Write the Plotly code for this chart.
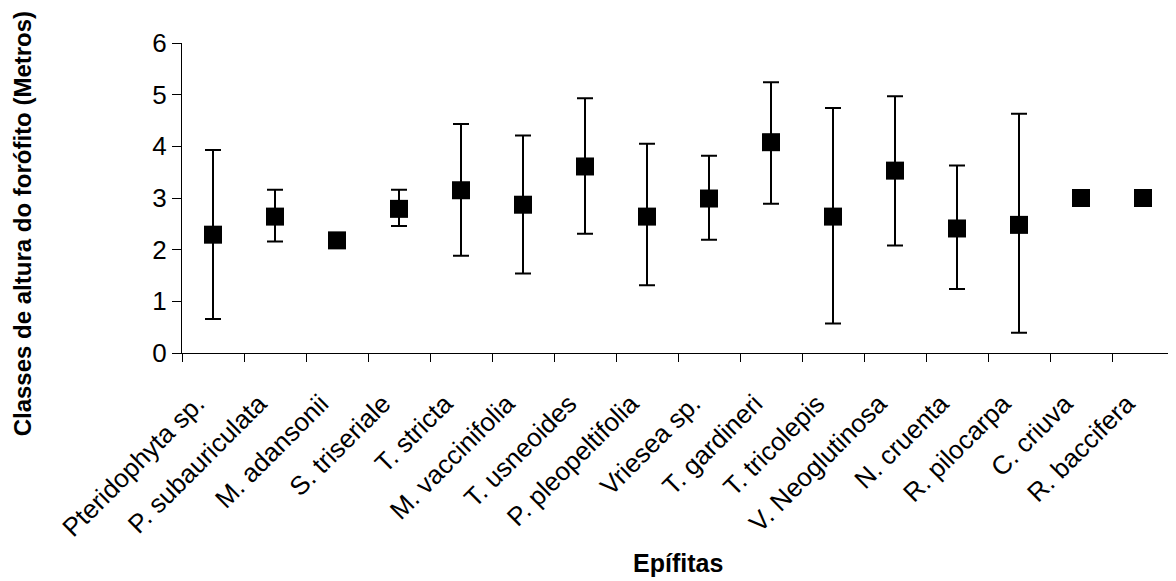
import plotly.graph_objects as go

categories = ["Pteridophyta sp.", "P. subauriculata", "M. adansonii", "S. triseriale",
              "T. stricta", "M. vaccinifolia", "T. usneoides", "P. pleopeltifolia",
              "Vriesea sp.", "T. gardineri", "T. tricolepis", "V. Neoglutinosa",
              "N. cruenta", "R. pilocarpa", "C. criuva", "R. baccifera"]
means = [2.29, 2.64, 2.18, 2.79, 3.15, 2.87, 3.61, 2.64, 2.99, 4.08, 2.64, 3.53, 2.41, 2.48, 3.0, 3.0]
upper = [3.93, 3.16, None, 3.16, 4.43, 4.21, 4.93, 4.05, 3.82, 5.24, 4.74, 4.97, 3.63, 4.63, None, None]
lower = [0.66, 2.16, None, 2.46, 1.88, 1.54, 2.31, 1.31, 2.19, 2.89, 0.57, 2.08, 1.24, 0.39, None, None]

err_plus = [(u - m) if u is not None else 0 for u, m in zip(upper, means)]
err_minus = [(m - l) if l is not None else 0 for l, m in zip(lower, means)]

FONT = "Arial, Liberation Sans, sans-serif"

fig = go.Figure()
fig.add_trace(go.Scatter(
    x=categories, y=means, mode="markers",
    marker=dict(symbol="square", size=18, color="black"),
    error_y=dict(type="data", symmetric=False, array=err_plus, arrayminus=err_minus,
                 color="black", thickness=2, width=8),
    showlegend=False,
))

fig.update_layout(
    width=1176, height=581,
    margin=dict(l=174, r=10, t=35, b=236),
    paper_bgcolor="white", plot_bgcolor="white",
    font=dict(family=FONT, color="black"),
)
fig.update_xaxes(
    type="category", range=[-0.5, 15.5], tickson="boundaries",
    ticks="outside", ticklen=8, tickwidth=1, tickcolor="black",
    showline=True, linecolor="black", linewidth=1.2, showgrid=False,
    tickangle=-45, tickfont=dict(size=26, family=FONT),
    ticklabelstandoff=24, ticklabelshift=-16,
)
fig.update_yaxes(
    range=[0, 6], dtick=1, tick0=0,
    ticks="outside", ticklen=9, tickwidth=1, tickcolor="black",
    showline=True, linecolor="black", linewidth=1.2, showgrid=False, zeroline=False,
    tickfont=dict(size=26, family=FONT),
)
fig.add_annotation(
    text="<b>Classes de altura do forófito (Metros)</b>", textangle=-90,
    xref="paper", yref="paper", x=-0.161, y=0.416, xanchor="center", yanchor="middle",
    showarrow=False, font=dict(size=24, family=FONT, color="black"),
)
fig.add_annotation(
    text="<b>Epífitas</b>",
    xref="paper", yref="paper", x=0.5, y=-0.677, xanchor="center", yanchor="middle",
    showarrow=False, font=dict(size=25, family=FONT, color="black"),
)

fig.write_html("out.html")
